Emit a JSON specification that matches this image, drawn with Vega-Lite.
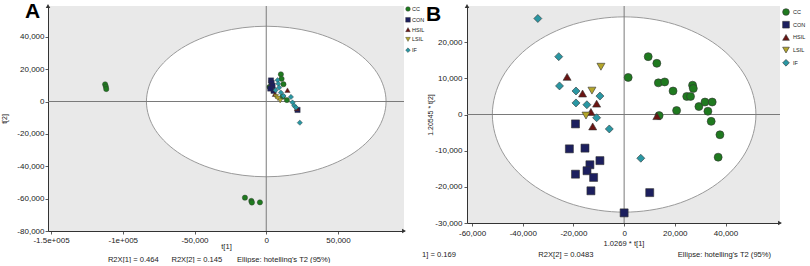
{
  "$schema": "https://vega.github.io/schema/vega-lite/v6.json",
  "padding": {"left": 0, "top": 1, "right": 0, "bottom": 0},
  "background": "white",
  "spacing": -4,
  "config": {
    "view": {"fill": "#e9e9e9", "stroke": null},
    "font": "Liberation Sans",
    "axis": {"grid": false, "domainColor": "#333333", "tickColor": "#333333", "labelColor": "#222222", "labelFontSize": 8, "labelFont": "Liberation Sans", "titleFont": "Liberation Sans", "titleFontSize": 7.6, "titleFontWeight": "normal", "titleColor": "#222222", "labelPadding": 1, "titlePadding": 0, "labelOverlap": false, "labelFlush": false, "domainWidth": 1, "tickWidth": 0.8, "tickSize": 3, "titleLineHeight": 12.5}
  },
  "datasets": {
    "ellA": [
      {"i": 0, "x": 83500, "y": 0}, {"i": 1, "x": 77150, "y": 17800}, {"i": 2, "x": 59040, "y": 32880}, {"i": 3, "x": 31950, "y": 42960},
      {"i": 4, "x": 0, "y": 46500}, {"i": 5, "x": -31950, "y": 42960}, {"i": 6, "x": -59040, "y": 32880}, {"i": 7, "x": -77150, "y": 17800},
      {"i": 8, "x": -83500, "y": 0}, {"i": 9, "x": -77150, "y": -17800}, {"i": 10, "x": -59040, "y": -32880}, {"i": 11, "x": -31950, "y": -42960},
      {"i": 12, "x": 0, "y": -46500}, {"i": 13, "x": 31950, "y": -42960}, {"i": 14, "x": 59040, "y": -32880}, {"i": 15, "x": 77150, "y": -17800}
    ],
    "ellB": [
      {"i": 0, "x": 52000, "y": 0}, {"i": 1, "x": 48040, "y": 10330}, {"i": 2, "x": 36770, "y": 19090}, {"i": 3, "x": 19900, "y": 24940},
      {"i": 4, "x": 0, "y": 27000}, {"i": 5, "x": -19900, "y": 24940}, {"i": 6, "x": -36770, "y": 19090}, {"i": 7, "x": -48040, "y": 10330},
      {"i": 8, "x": -52000, "y": 0}, {"i": 9, "x": -48040, "y": -10330}, {"i": 10, "x": -36770, "y": -19090}, {"i": 11, "x": -19900, "y": -24940},
      {"i": 12, "x": 0, "y": -27000}, {"i": 13, "x": 19900, "y": -24940}, {"i": 14, "x": 36770, "y": -19090}, {"i": 15, "x": 48040, "y": -10330}
    ],
    "ptsA": [
      {"g": "CC", "x": -112300, "y": 10600}, {"g": "CC", "x": -111800, "y": 9200}, {"g": "CC", "x": -111500, "y": 7700},
      {"g": "CC", "x": -14850, "y": -59400}, {"g": "CC", "x": -10400, "y": -61400}, {"g": "CC", "x": -10000, "y": -62400}, {"g": "CC", "x": -4400, "y": -62300},
      {"g": "CC", "x": 10200, "y": 16800}, {"g": "CC", "x": 10700, "y": 14000}, {"g": "CC", "x": 2300, "y": 9000}, {"g": "CC", "x": 12000, "y": 10700},
      {"g": "CC", "x": 14400, "y": 900}, {"g": "CC", "x": 11500, "y": 3000},
      {"g": "CON", "x": 3300, "y": 13000}, {"g": "CON", "x": 3700, "y": 11500}, {"g": "CON", "x": 4400, "y": 9700}, {"g": "CON", "x": 5100, "y": 6600},
      {"g": "CON", "x": 2800, "y": 8000}, {"g": "CON", "x": 21800, "y": -5200},
      {"g": "HSIL", "x": 14800, "y": 7000}, {"g": "HSIL", "x": 21400, "y": -4300}, {"g": "HSIL", "x": 6000, "y": 4500},
      {"g": "LSIL", "x": 6700, "y": 3000}, {"g": "LSIL", "x": 9700, "y": 500}, {"g": "LSIL", "x": 8000, "y": 2000},
      {"g": "IF", "x": 7900, "y": 13200}, {"g": "IF", "x": 8400, "y": 11000}, {"g": "IF", "x": 9000, "y": 8600}, {"g": "IF", "x": 10200, "y": 5500},
      {"g": "IF", "x": 12000, "y": 3500}, {"g": "IF", "x": 17200, "y": 2800}, {"g": "IF", "x": 18300, "y": -600}, {"g": "IF", "x": 19500, "y": -2600},
      {"g": "IF", "x": 20700, "y": -3700}, {"g": "IF", "x": 23400, "y": -13100}, {"g": "IF", "x": 6500, "y": 7000}
    ],
    "ptsB": [
      {"g": "CC", "x": 1600, "y": 10250}, {"g": "CC", "x": 9500, "y": 16000}, {"g": "CC", "x": 12900, "y": 14150}, {"g": "CC", "x": 13500, "y": 8750},
      {"g": "CC", "x": 16000, "y": 9000}, {"g": "CC", "x": 19300, "y": 6500}, {"g": "CC", "x": 27000, "y": 8100}, {"g": "CC", "x": 27300, "y": 7200},
      {"g": "CC", "x": 24700, "y": 5000}, {"g": "CC", "x": 26200, "y": 5000}, {"g": "CC", "x": 20700, "y": 1100}, {"g": "CC", "x": 29500, "y": 2200},
      {"g": "CC", "x": 31900, "y": 3450}, {"g": "CC", "x": 34750, "y": 3450}, {"g": "CC", "x": 33050, "y": 900}, {"g": "CC", "x": 34350, "y": -1900},
      {"g": "CC", "x": 13800, "y": -300}, {"g": "CC", "x": 37800, "y": -5600}, {"g": "CC", "x": 37100, "y": -11800},
      {"g": "CON", "x": -19200, "y": -2600}, {"g": "CON", "x": -21600, "y": -9500}, {"g": "CON", "x": -15450, "y": -9300}, {"g": "CON", "x": -9550, "y": -12750},
      {"g": "CON", "x": -13500, "y": -13900}, {"g": "CON", "x": -19200, "y": -16500}, {"g": "CON", "x": -14650, "y": -15550}, {"g": "CON", "x": -12050, "y": -17400},
      {"g": "CON", "x": -13100, "y": -21100}, {"g": "CON", "x": 0, "y": -27200}, {"g": "CON", "x": 10100, "y": -21600},
      {"g": "HSIL", "x": -22500, "y": 10400}, {"g": "HSIL", "x": -16400, "y": 5800}, {"g": "HSIL", "x": -10850, "y": 3000}, {"g": "HSIL", "x": -13100, "y": 700},
      {"g": "HSIL", "x": -12400, "y": -3300}, {"g": "HSIL", "x": 12900, "y": -450},
      {"g": "LSIL", "x": -9150, "y": 13200}, {"g": "LSIL", "x": -12700, "y": 6600}, {"g": "LSIL", "x": -15050, "y": -300},
      {"g": "IF", "x": -34050, "y": 26540}, {"g": "IF", "x": -25800, "y": 16000}, {"g": "IF", "x": -25500, "y": 7900}, {"g": "IF", "x": -19000, "y": 6500},
      {"g": "IF", "x": -19000, "y": 3200}, {"g": "IF", "x": -14700, "y": 2700}, {"g": "IF", "x": -9550, "y": 5100}, {"g": "IF", "x": -10850, "y": -900},
      {"g": "IF", "x": -5860, "y": -4000}, {"g": "IF", "x": 6570, "y": -12100}
    ]
  },
  "hconcat": [
    {
      "width": 356,
      "height": 225,
      "title": {"text": "A", "anchor": "start", "frame": "group", "fontSize": 21, "fontWeight": "bold", "font": "Liberation Sans", "color": "#000000", "baseline": "top", "offset": 0, "dx": -23, "dy": 18},
      "encoding": {
        "x": {"field": "x", "type": "quantitative", "scale": {"domain": [-152100, 96000], "nice": false, "zero": false},
          "axis": {
            "labelOverlap": false, "labelPadding": 2, "titlePadding": -2, "titleLineHeight": 13,
            "title": ["t[1]", "R2X[1] = 0.464\u00a0\u00a0\u00a0\u00a0\u00a0\u00a0R2X[2] = 0.145\u00a0\u00a0\u00a0\u00a0\u00a0\u00a0\u00a0Ellipse: hotelling's T2 (95%)\u00a0\u00a0\u00a0\u00a0\u00a0\u00a0\u00a0\u200b"],
            "values": [-150000, -100000, -50000, 0, 50000],
            "labelExpr": "datum.value == -150000 ? '-1.5e+005' : datum.value == -100000 ? '-1e+005' : (datum.value < 0 ? '-' : '') + format(abs(datum.value), ',')"
          }},
        "y": {"field": "y", "type": "quantitative", "scale": {"domain": [-80000, 59000], "nice": false, "zero": false},
          "axis": {
            "labelOverlap": false,
            "title": "t[2]", "titleFontSize": 7, "titlePadding": 9,
            "values": [-80000, -60000, -40000, -20000, 0, 20000, 40000],
            "labelExpr": "(datum.value < 0 ? '-' : '') + format(abs(datum.value), ',')"
          }}
      },
      "layer": [
        {
          "data": {"name": "ellA"},
          "mark": {"type": "line", "fill": "white", "stroke": "#9a9a9a", "strokeWidth": 1, "interpolate": "cardinal-closed", "tension": 0},
          "encoding": {"order": {"field": "i", "type": "quantitative"}}
        },
        {"data": {"values": [{"x": 0, "y": -80000}, {"x": 0, "y": 59000}]}, "mark": {"type": "line", "color": "#7a7a7a", "strokeWidth": 1}, "encoding": {}},
        {"data": {"values": [{"x": -152100, "y": 0}, {"x": 96000, "y": 0}]}, "mark": {"type": "line", "color": "#7a7a7a", "strokeWidth": 1}, "encoding": {}},
        {
          "data": {"name": "ptsA"},
          "mark": {"type": "point", "filled": true, "size": 28, "stroke": "#333333", "strokeWidth": 0.4, "opacity": 1},
          "encoding": {
            "color": {"field": "g", "type": "nominal", "scale": {"domain": ["CC", "CON", "HSIL", "LSIL", "IF"], "range": ["#1f7a1f", "#1c1f5e", "#6a1412", "#b3a52a", "#2a97a3"]},
              "legend": {"title": null, "offset": 1, "padding": 0, "symbolSize": 22, "labelFontSize": 5.5, "labelOffset": 1, "rowPadding": 2.8, "symbolStrokeWidth": 0.4, "symbolStrokeColor": "#333333", "labelColor": "#222222"}},
            "shape": {"field": "g", "type": "nominal", "scale": {"domain": ["CC", "CON", "HSIL", "LSIL", "IF"], "range": ["circle", "square", "triangle-up", "triangle-down", "diamond"]},
              "legend": {"title": null, "offset": 1, "padding": 0, "symbolSize": 22, "labelFontSize": 5.5, "labelOffset": 1, "rowPadding": 2.8, "symbolStrokeWidth": 0.4, "symbolStrokeColor": "#333333", "labelColor": "#222222"}}
          }
        },
        {"data": {"values": [{"x": -152100, "y": 59000}]}, "mark": {"type": "point", "shape": "triangle-up", "filled": true, "size": 20, "color": "#333333", "opacity": 1}, "encoding": {}},
        {"data": {"values": [{"x": 96000, "y": -80000}]}, "mark": {"type": "point", "shape": "triangle-right", "filled": true, "size": 20, "color": "#333333", "opacity": 1}, "encoding": {}}
      ]
    },
    {
      "width": 313,
      "height": 217,
      "title": {"text": "B", "anchor": "start", "frame": "group", "fontSize": 21, "fontWeight": "bold", "font": "Liberation Sans", "color": "#000000", "baseline": "top", "offset": 0, "dx": -41, "dy": 21},
      "layer": [
        {
          "data": {"name": "ellB"},
          "mark": {"type": "line", "fill": "white", "stroke": "#9a9a9a", "strokeWidth": 1, "interpolate": "cardinal-closed", "tension": 0},
          "encoding": {
            "x": {"field": "x", "type": "quantitative", "scale": {"domain": [-62000, 61500], "nice": false, "zero": false},
              "axis": {
                "labelOverlap": false, "labelPadding": 3, "titlePadding": 2, "titleLineHeight": 11,
                "title": ["1.0269 * t[1]", "1] = 0.169\u00a0\u00a0\u00a0\u00a0\u00a0\u00a0\u00a0\u00a0\u00a0\u00a0\u00a0\u00a0\u00a0\u00a0\u00a0\u00a0\u00a0\u00a0\u00a0\u00a0\u00a0\u00a0\u00a0\u00a0\u00a0\u00a0\u00a0\u00a0\u00a0\u00a0\u00a0\u00a0\u00a0\u00a0\u00a0\u00a0\u00a0\u00a0\u00a0R2X[2] = 0.0483\u00a0\u00a0\u00a0\u00a0\u00a0\u00a0\u00a0\u00a0\u00a0\u00a0\u00a0\u00a0\u00a0\u00a0\u00a0\u00a0\u00a0\u00a0\u00a0\u00a0\u00a0\u00a0\u00a0\u00a0\u00a0\u00a0\u00a0\u00a0\u00a0\u00a0\u00a0\u00a0\u00a0\u00a0\u00a0\u00a0\u00a0\u00a0\u00a0\u00a0Ellipse: hotelling's T2 (95%)\u00a0\u00a0\u00a0\u00a0\u00a0\u00a0\u00a0\u00a0\u00a0\u00a0\u00a0\u00a0\u00a0\u00a0\u00a0\u00a0\u00a0\u00a0\u00a0\u00a0\u00a0\u00a0\u00a0\u00a0\u00a0\u00a0\u200b"],
                "values": [-60000, -40000, -20000, 0, 20000, 40000],
                "labelExpr": "(datum.value < 0 ? '-' : '') + format(abs(datum.value), ',')"
              }},
            "y": {"field": "y", "type": "quantitative", "scale": {"domain": [-30000, 30000], "nice": false, "zero": false},
              "axis": {
                "labelOverlap": false,
                "title": "1.20545 * t[2]", "titleFontSize": 7, "titlePadding": 1, "labelPadding": 2,
                "values": [-30000, -20000, -10000, 0, 10000, 20000],
                "labelExpr": "(datum.value < 0 ? '-' : '') + format(abs(datum.value), ',')"
              }},
            "order": {"field": "i", "type": "quantitative"}
          }
        },
        {"data": {"values": [{}]}, "mark": {"type": "rule", "color": "#7a7a7a", "strokeWidth": 1}, "encoding": {"x": {"datum": 0}}},
        {"data": {"values": [{}]}, "mark": {"type": "rule", "color": "#7a7a7a", "strokeWidth": 1}, "encoding": {"y": {"datum": 0}}},
        {
          "data": {"name": "ptsB"},
          "mark": {"type": "point", "filled": true, "size": 64, "stroke": "#333333", "strokeWidth": 0.6, "opacity": 1},
          "encoding": {
            "x": {"field": "x", "type": "quantitative"},
            "y": {"field": "y", "type": "quantitative"},
            "color": {"field": "g", "type": "nominal", "scale": {"domain": ["CC", "CON", "HSIL", "LSIL", "IF"], "range": ["#1f7a1f", "#1c1f5e", "#6a1412", "#b3a52a", "#2a97a3"]},
              "legend": {"title": null, "offset": 0, "padding": 2, "symbolSize": 45, "labelFontSize": 5.5, "labelOffset": 3, "rowPadding": 2.7, "symbolStrokeWidth": 0.6, "symbolStrokeColor": "#333333", "labelColor": "#222222"}},
            "shape": {"field": "g", "type": "nominal", "scale": {"domain": ["CC", "CON", "HSIL", "LSIL", "IF"], "range": ["circle", "square", "triangle-up", "triangle-down", "diamond"]},
              "legend": {"title": null, "offset": 0, "padding": 2, "symbolSize": 45, "labelFontSize": 5.5, "labelOffset": 3, "rowPadding": 2.7, "symbolStrokeWidth": 0.6, "symbolStrokeColor": "#333333", "labelColor": "#222222"}}
          }
        },
        {"data": {"values": [{}]}, "mark": {"type": "point", "shape": "triangle-up", "filled": true, "size": 20, "color": "#333333", "opacity": 1}, "encoding": {"x": {"datum": -62000}, "y": {"datum": 30000}}},
        {"data": {"values": [{}]}, "mark": {"type": "point", "shape": "triangle-right", "filled": true, "size": 20, "color": "#333333", "opacity": 1}, "encoding": {"x": {"datum": 61500}, "y": {"datum": -30000}}}
      ]
    }
  ],
  "resolve": {"scale": {"x": "independent", "y": "independent", "color": "independent", "shape": "independent"}, "legend": {"color": "independent", "shape": "independent"}}
}
